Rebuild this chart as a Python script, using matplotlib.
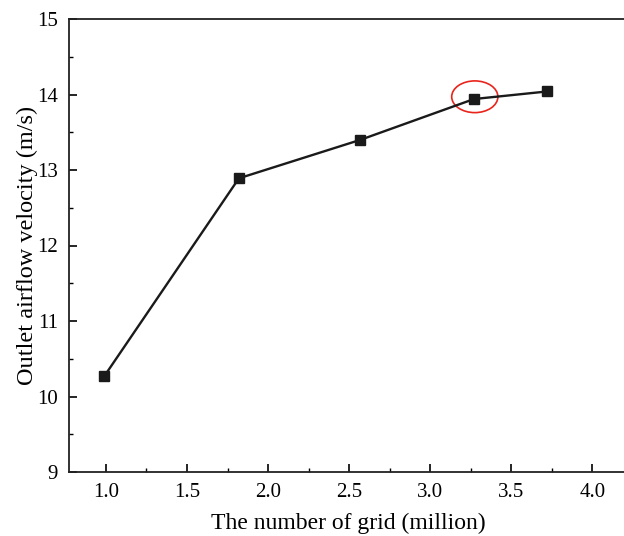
import matplotlib
matplotlib.use("Agg")
import matplotlib.pyplot as plt
from matplotlib.patches import Ellipse
from matplotlib.ticker import MultipleLocator

# datos
grid_million = [0.99, 1.82, 2.57, 3.27, 3.72]
velocity = [10.27, 12.89, 13.40, 13.94, 14.04]
x_ticks = [1.0, 1.5, 2.0, 2.5, 3.0, 3.5, 4.0]
y_ticks = [9, 10, 11, 12, 13, 14, 15]

plt.rcParams['font.family'] = ['Liberation Serif', 'DejaVu Serif']
plt.rcParams['mathtext.fontset'] = 'stix'

fig = plt.figure(figsize=(6.24, 5.36), dpi=100)
ax = fig.add_axes([69 / 624, 64 / 536, 559 / 624, 453 / 536])

ax.plot(grid_million, velocity, color='#1a1a1a', lw=1.7, marker='s', ms=7,
        markerfacecolor='#1a1a1a', markeredgecolor='#1a1a1a')

# circulo rojo sobre el punto convergido
ax.add_patch(Ellipse((grid_million[3] + 0.005, velocity[3] + 0.03), 0.285, 0.42,
                     fill=False, edgecolor='#e8241c', lw=1.2))

ax.set_xlim(0.772, 4.22)
ax.set_ylim(9, 15)
ax.set_xticks(x_ticks)
ax.set_yticks(y_ticks)
ax.set_xticklabels([f"{t:.1f}" for t in x_ticks])
ax.xaxis.set_minor_locator(MultipleLocator(0.25))
ax.yaxis.set_minor_locator(MultipleLocator(0.5))
ax.tick_params(which='major', direction='in', length=6, width=1.2, labelsize=15, pad=8)
ax.tick_params(which='minor', direction='in', length=3, width=1.0)
for s in ax.spines.values():
    s.set_linewidth(1.3)
    s.set_color('#222222')

ax.set_xlabel('The number of grid (million)', fontsize=17, labelpad=8)
ax.set_ylabel('Outlet airflow velocity (m/s)', fontsize=17.5, labelpad=-1)

fig.savefig('out.png', dpi=100)
